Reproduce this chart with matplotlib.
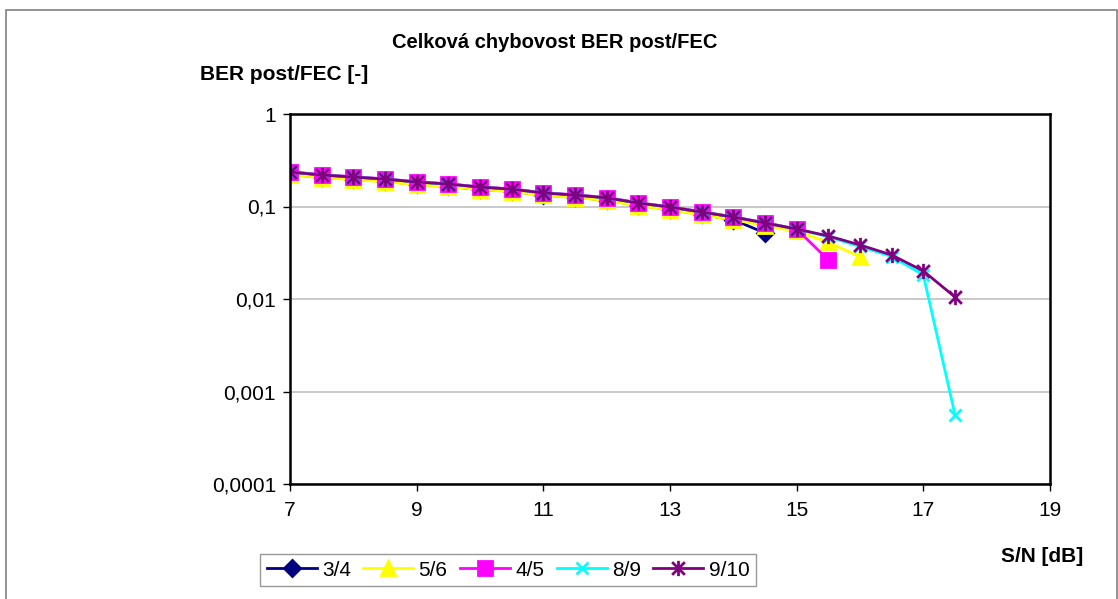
import matplotlib
matplotlib.use("Agg")
import matplotlib.pyplot as plt
from matplotlib.patches import Rectangle
from matplotlib.path import Path
from matplotlib.ticker import FixedLocator, FixedFormatter

plt.rcParams['font.family'] = ['Liberation Sans', 'DejaVu Sans']

# S/N [dB]
sn_34 = [7, 7.5, 8, 8.5, 9, 9.5, 10, 10.5, 11, 11.5, 12, 12.5, 13, 13.5, 14, 14.5]
sn_56 = sn_34 + [15, 15.5, 16]
sn_45 = sn_34 + [15, 15.5]
sn_89 = sn_34 + [15, 15.5, 16, 16.5, 17, 17.5]
sn_910 = sn_89

ber_34 = [0.222, 0.207, 0.197, 0.187, 0.174, 0.165, 0.153, 0.146, 0.133, 0.126,
          0.117, 0.103, 0.093, 0.082, 0.072, 0.0517]
ber_56 = [0.220, 0.205, 0.195, 0.185, 0.172, 0.164, 0.152, 0.145, 0.132, 0.125,
          0.116, 0.102, 0.092, 0.081, 0.072, 0.062, 0.054, 0.041, 0.0285]
ber_45 = [0.238, 0.221, 0.210, 0.199, 0.185, 0.176, 0.163, 0.155, 0.141, 0.134,
          0.125, 0.110, 0.099, 0.088, 0.077, 0.067, 0.057, 0.0264]
ber_89 = [0.236, 0.219, 0.208, 0.198, 0.184, 0.175, 0.162, 0.154, 0.140, 0.133,
          0.124, 0.109, 0.0988, 0.0872, 0.077, 0.0663, 0.0571, 0.047, 0.037,
          0.0288, 0.0182, 0.00056]
ber_910 = [0.236, 0.219, 0.208, 0.198, 0.184, 0.175, 0.162, 0.154, 0.140, 0.133,
           0.124, 0.109, 0.0988, 0.0872, 0.077, 0.0663, 0.0571, 0.048, 0.0384,
           0.0299, 0.0201, 0.0105]

ytick_vals = [0.0001, 0.001, 0.01, 0.1, 1]
ytick_labels = ["0,0001", "0,001", "0,01", "0,1", "1"]
xtick_vals = [7, 9, 11, 13, 15, 17, 19]

# excel style star: an X with a vertical bar through it
star = Path([(-1, -1), (1, 1), (-1, 1), (1, -1), (0, -1.2), (0, 1.2)],
            [Path.MOVETO, Path.LINETO, Path.MOVETO, Path.LINETO,
             Path.MOVETO, Path.LINETO])

fig = plt.figure(figsize=(11.18, 5.99), dpi=100)
fig.patches.append(Rectangle((6 / 1118, -0.02), 1111 / 1118, 1 - 10 / 599 + 0.02,
                             transform=fig.transFigure, fill=False,
                             edgecolor="#808080", lw=1.2))

ax = fig.add_axes([290 / 1118, 1 - 484 / 599, 760 / 1118, 370 / 599])

series = [
    (sn_34, ber_34, "3/4", "#000080", "D", 8),
    (sn_56, ber_56, "5/6", "#FFFF00", "^", 10),
    (sn_45, ber_45, "4/5", "#FF00FF", "s", 9.5),
    (sn_89, ber_89, "8/9", "#00FFFF", "x", 9),
    (sn_910, ber_910, "9/10", "#800080", star, 11),
]
for x, y, lab, col, mk, ms in series:
    ax.plot(x, y, color=col, lw=2, marker=mk, markersize=ms,
            markerfacecolor=col, markeredgecolor=col, markeredgewidth=2,
            label=lab)

ax.set_yscale("log")
ax.set_ylim(0.0001, 1)
ax.set_xlim(7, 19)
ax.yaxis.set_major_locator(FixedLocator(ytick_vals))
ax.yaxis.set_major_formatter(FixedFormatter(ytick_labels))
ax.yaxis.set_minor_locator(FixedLocator([]))
ax.set_xticks(xtick_vals)
ax.grid(axis="y", color="#c0c0c0", lw=1.2)
ax.set_axisbelow(True)
ax.tick_params(labelsize=15, length=5, width=1, direction="out", pad=5)
ax.tick_params(axis="x", pad=7)
for sp in ax.spines.values():
    sp.set_linewidth(1.8)

fig.text(555 / 1118, 1 - 42 / 599, "Celková chybovost BER post/FEC",
         ha="center", va="center", fontsize=14.5, fontweight="bold")
fig.text(284 / 1118, 1 - 75 / 599, "BER post/FEC [-]",
         ha="center", va="center", fontsize=15, fontweight="bold")
fig.text(1042 / 1118, 1 - 556 / 599, "S/N [dB]",
         ha="center", va="center", fontsize=15, fontweight="bold")

leg = fig.legend(loc="center", bbox_to_anchor=(508 / 1118, 1 - 570 / 599),
                 ncol=5, fontsize=15, frameon=True, fancybox=False,
                 handlelength=2.4, columnspacing=0.6, handletextpad=0.25,
                 borderpad=0.3, borderaxespad=0)
leg.get_frame().set_edgecolor("#808080")
leg.get_frame().set_linewidth(1)

fig.savefig("out.png", dpi=100)
